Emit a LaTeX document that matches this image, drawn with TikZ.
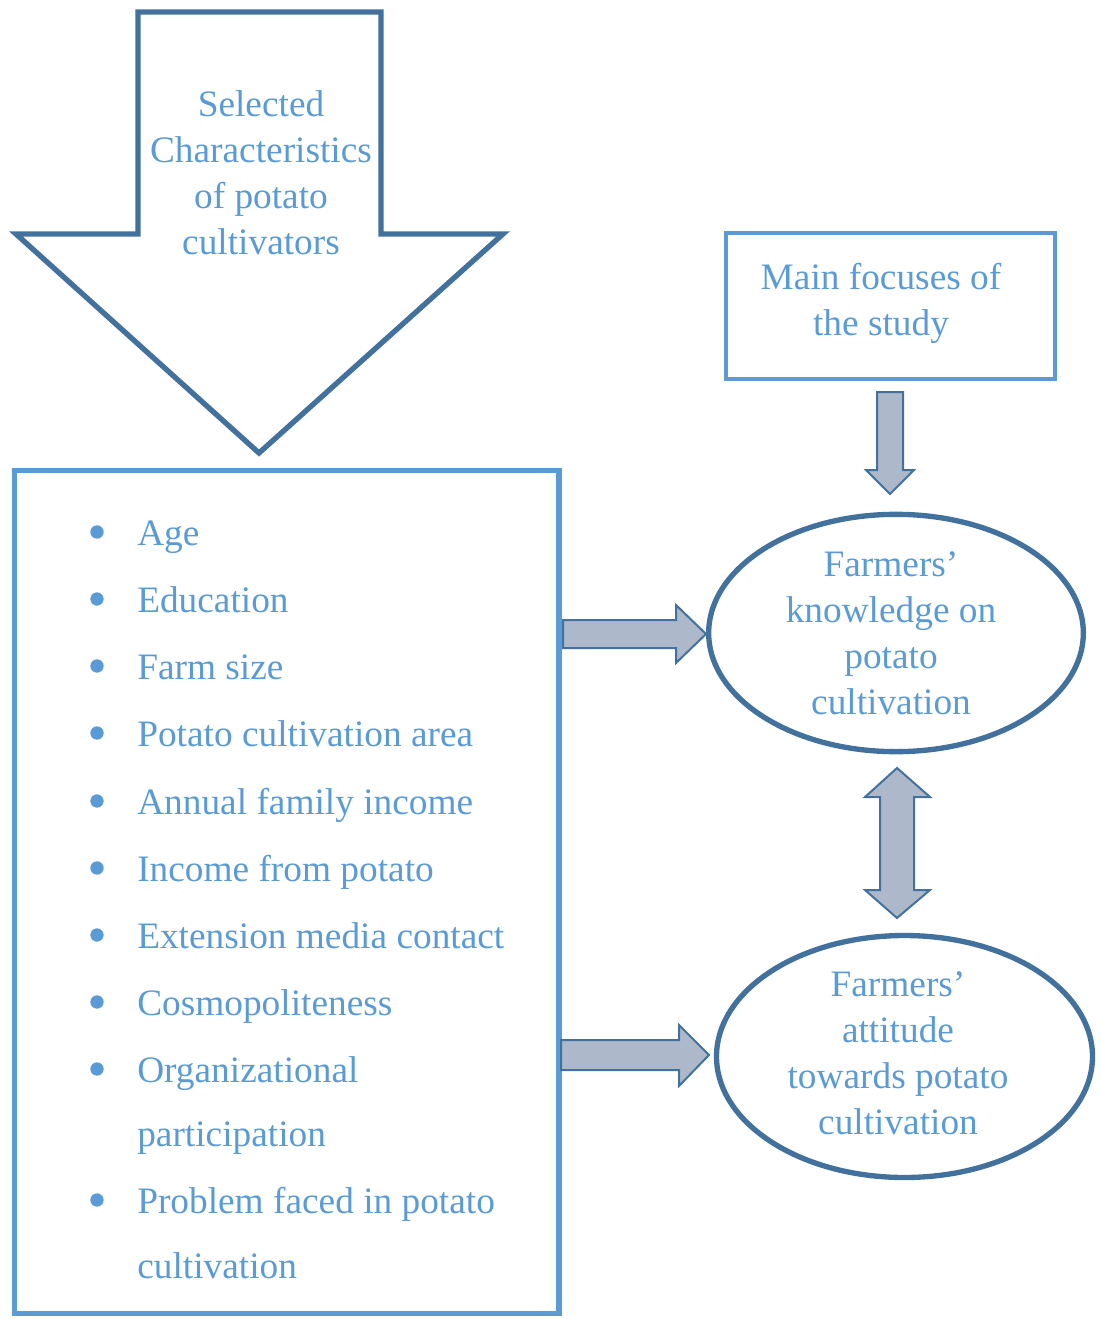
\documentclass[tikz,border=0pt]{standalone}
\usepackage{fontspec}
\setmainfont{Liberation Serif}
\usetikzlibrary{shapes.geometric}
\definecolor{txt}{HTML}{5B9BD5}
\definecolor{dk}{HTML}{41719C}
\definecolor{fillg}{HTML}{ADB9CA}
\begin{document}
\begin{tikzpicture}[x=0.75pt,y=-0.75pt,
  lab/.style={text=txt, font=\fontsize{28}{34.5}\selectfont, align=center, inner sep=0pt},
  item/.style={text=txt, font=\fontsize{28}{34.5}\selectfont, anchor=base west, inner sep=0pt},
  bul/.style={circle, fill=txt, inner sep=0pt, minimum size=10pt},
  blk/.style={draw=dk, line width=1.5pt, fill=fillg, line join=miter},
  oval/.style={ellipse, draw=dk, line width=4pt, inner sep=0pt}]
\useasboundingbox (0,0) rectangle (1100,1319);

% big down arrow
\draw[dk, line width=4pt, line join=miter] (138,12) -- (381,12) -- (381,234) -- (503,234) -- (259,453) -- (16,234) -- (138,234) -- cycle;
\node[lab] (sel) at (261,173) {Selected\\Characteristics\\of potato\\cultivators};

% main focuses box
\node[draw=txt, line width=3.4pt, minimum width=246.5pt, minimum height=109.5pt, inner sep=0pt] (mf) at (890.5,306) {};
\node[lab] (mft) at (881,303) {Main focuses of\\the study};

% list box
\node[draw=txt, line width=4pt, minimum width=408.5pt, minimum height=632.5pt, inner sep=0pt] (lb) at (286.5,892) {};

% ellipses
\node[oval, minimum width=281pt, minimum height=178pt] (k) at (896,633) {};
\node[lab] (kt) at (891,633) {Farmers’\\knowledge on\\potato\\cultivation};
\node[oval, minimum width=282pt, minimum height=181.5pt] (a) at (904.5,1056.5) {};
\node[lab] (at) at (898,1053) {Farmers’\\attitude\\towards potato\\cultivation};

% block arrows
\draw[blk] (877,392) -- (903,392) -- (903,470) -- (914,470) -- (890,494) -- (866,470) -- (877,470) -- cycle;
\draw[blk] (897,768) -- (930,797) -- (914,797) -- (914,890) -- (930,890) -- (897,918) -- (865,890) -- (880,890) -- (880,797) -- (865,797) -- cycle;
\draw[blk] (563,620) -- (676,620) -- (676,605) -- (706,634) -- (676,663) -- (676,648) -- (563,648) -- cycle;
\draw[blk] (561,1040) -- (679,1040) -- (679,1025) -- (709,1055) -- (679,1086) -- (679,1070) -- (561,1070) -- cycle;

% list
\node[bul] (b1) at (97,532) {};  \node[item] (i1) at (137,545) {Age};
\node[bul] (b2) at (97,599) {};  \node[item] (i2) at (137,612) {Education};
\node[bul] (b3) at (97,666) {};  \node[item] (i3) at (137,679) {Farm size};
\node[bul] (b4) at (97,733) {};  \node[item] (i4) at (137,746) {Potato cultivation area};
\node[bul] (b5) at (97,801) {};  \node[item] (i5) at (137,814) {Annual family income};
\node[bul] (b6) at (97,868) {};  \node[item] (i6) at (137,881) {Income from potato};
\node[bul] (b7) at (97,935) {};  \node[item] (i7) at (137,948) {Extension media contact};
\node[bul] (b8) at (97,1002) {}; \node[item] (i8) at (137,1015) {Cosmopoliteness};
\node[bul] (b9) at (97,1069) {}; \node[item] (i9) at (137,1082) {Organizational};
\node[item] (i9b) at (137,1146) {participation};
\node[bul] (b10) at (97,1200) {}; \node[item] (i10) at (137,1213) {Problem faced in potato};
\node[item] (i10b) at (137,1278) {cultivation};
\end{tikzpicture}
\end{document}
